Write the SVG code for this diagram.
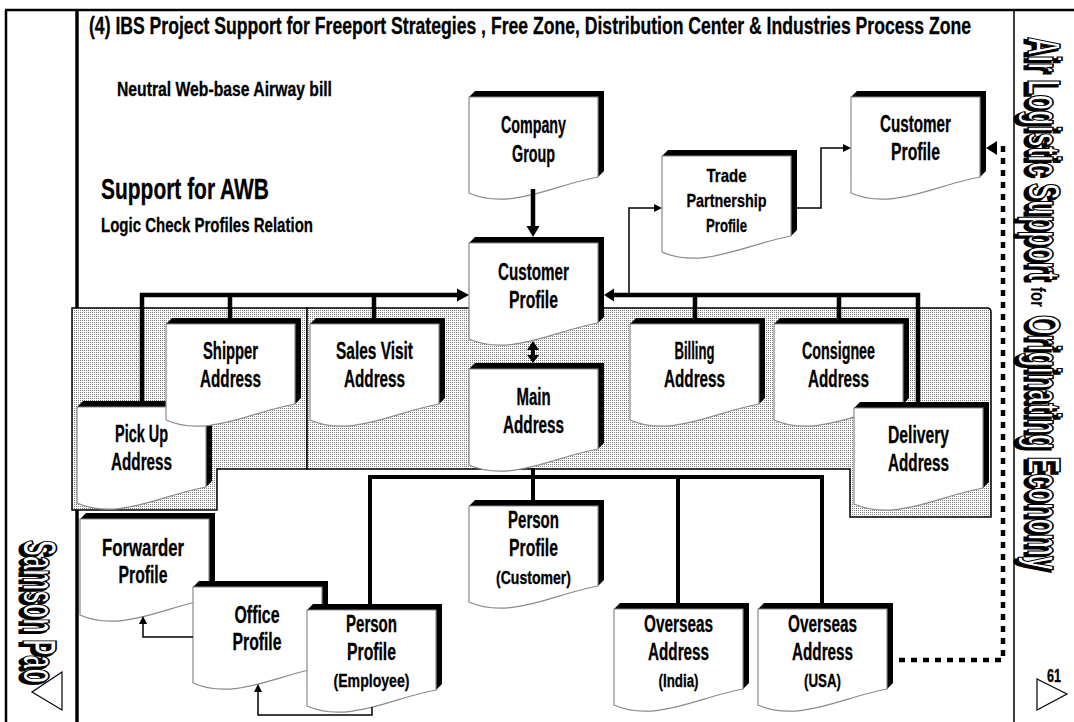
<svg xmlns="http://www.w3.org/2000/svg" width="1074" height="722" viewBox="0 0 1074 722">
  <defs>
    <style>
      .t{font-family:"Liberation Sans Narrow","Liberation Sans",Arial,sans-serif;font-weight:bold;fill:#000;stroke:#000;stroke-width:0.3}
      .lbl{font-size:23px;text-anchor:middle}
      .sub{font-size:18px;text-anchor:middle}
      .sm{font-size:19px;text-anchor:middle}
      .ext{fill:#000}
      .face{fill:#fff;stroke:#8a8a8a;stroke-width:1.2}
      .frame{fill:none;stroke:#000}
      .zone{fill:url(#dots);stroke:#000;stroke-width:1.5}
      .bus{fill:none;stroke:#000;stroke-width:4.5}
      .bus2{fill:none;stroke:#000;stroke-width:4}
      .thin{fill:none;stroke:#000;stroke-width:1.5}
      .dotted{fill:none;stroke:#000;stroke-width:4.5;stroke-dasharray:6 6}
      .head{fill:#000}
      .side{font-family:"Liberation Sans Narrow","Liberation Sans",Arial,sans-serif;font-weight:bold}
      .shadow{fill:#000;stroke:#000;stroke-width:2.5}
      .outline{fill:#fff;stroke:#000;stroke-width:1.3}
      .tri{fill:#fff;stroke:#000;stroke-width:1.2}
    </style>
    <pattern id="dots" x="0" y="0" width="2" height="2" patternUnits="userSpaceOnUse">
      <rect width="2" height="2" fill="#fff"/>
      <rect width="1" height="1" fill="#7a7a7a"/>
    </pattern>
    <!-- document shape with a black top/right extrusion, 129 x 80 -->
    <g id="doc">
      <path class="ext" d="M0,0 L6,-6 H135 V74 L129,80 V0 Z"/>
      <path class="face" d="M0,0 H129 V80 C85,88 40,114 0,96 Z"/>
    </g>
  </defs>

  <rect width="1074" height="722" fill="#fff"/>

  <!-- page frame -->
  <g id="frame">
    <line class="frame" x1="5" y1="10" x2="1074" y2="10" stroke-width="2.5"/>
    <line class="frame" x1="6" y1="10" x2="6" y2="722" stroke-width="2.5"/>
    <line class="frame" x1="77" y1="10" x2="77" y2="722" stroke-width="3.5"/>
    <line class="frame" x1="1014" y1="10" x2="1014" y2="722" stroke-width="1.5"/>
  </g>

  <!-- shaded address zones -->
  <g id="zones">
    <path class="zone" d="M72,308 H307 V469 H217 V510 H72 Z"/>
    <path class="zone" d="M307,308 H987 Q991,308 991,312 V517 H850 V469 H307 Z"/>
  </g>

  <!-- headings -->
  <g id="headings">
    <text class="t" transform="translate(89,34) scale(0.72,1)" x="0" y="0" font-size="23" textLength="1225" lengthAdjust="spacingAndGlyphs">(4) IBS Project  Support for Freeport Strategies , Free Zone, Distribution Center &amp; Industries Process Zone</text>
    <text class="t" x="117" y="96" font-size="20" textLength="215" lengthAdjust="spacingAndGlyphs">Neutral Web-base Airway bill</text>
    <text class="t" x="101" y="199" font-size="30" textLength="168" lengthAdjust="spacingAndGlyphs">Support for AWB</text>
    <text class="t" x="101" y="232" font-size="20" textLength="212" lengthAdjust="spacingAndGlyphs">Logic Check Profiles Relation</text>
  </g>

  <!-- nodes -->
  <g id="node-company-group" transform="translate(469,97)">
    <use href="#doc"/>
    <text class="t lbl" x="64.5" y="36" textLength="65" lengthAdjust="spacingAndGlyphs">Company</text>
    <text class="t lbl" x="64.5" y="65" textLength="43" lengthAdjust="spacingAndGlyphs">Group</text>
  </g>

  <g id="node-customer-profile-top" transform="translate(851,97)">
    <use href="#doc"/>
    <text class="t lbl" x="64.5" y="35" textLength="71" lengthAdjust="spacingAndGlyphs">Customer</text>
    <text class="t lbl" x="64.5" y="63" textLength="49" lengthAdjust="spacingAndGlyphs">Profile</text>
  </g>

  <g id="node-trade-partnership" transform="translate(662,156)">
    <use href="#doc"/>
    <text class="t sm" x="64.5" y="26" textLength="40" lengthAdjust="spacingAndGlyphs">Trade</text>
    <text class="t sm" x="64.5" y="51" textLength="80" lengthAdjust="spacingAndGlyphs">Partnership</text>
    <text class="t sm" x="64.5" y="76" textLength="41" lengthAdjust="spacingAndGlyphs">Profile</text>
  </g>

  <g id="node-pick-up" transform="translate(77,407)">
    <use href="#doc"/>
    <text class="t lbl" x="64.5" y="35" textLength="53" lengthAdjust="spacingAndGlyphs">Pick Up</text>
    <text class="t lbl" x="64.5" y="63" textLength="61" lengthAdjust="spacingAndGlyphs">Address</text>
  </g>

  <g id="node-shipper" transform="translate(166,324)">
    <use href="#doc"/>
    <text class="t lbl" x="64.5" y="35" textLength="55" lengthAdjust="spacingAndGlyphs">Shipper</text>
    <text class="t lbl" x="64.5" y="63" textLength="61" lengthAdjust="spacingAndGlyphs">Address</text>
  </g>

  <g id="node-sales-visit" transform="translate(310,324)">
    <use href="#doc"/>
    <text class="t lbl" x="64.5" y="35" textLength="77" lengthAdjust="spacingAndGlyphs">Sales Visit</text>
    <text class="t lbl" x="64.5" y="63" textLength="61" lengthAdjust="spacingAndGlyphs">Address</text>
  </g>

  <g id="node-customer-profile" transform="translate(469,243)">
    <use href="#doc"/>
    <text class="t lbl" x="64.5" y="37" textLength="71" lengthAdjust="spacingAndGlyphs">Customer</text>
    <text class="t lbl" x="64.5" y="65" textLength="49" lengthAdjust="spacingAndGlyphs">Profile</text>
  </g>

  <g id="node-main-address" transform="translate(469,369)">
    <use href="#doc"/>
    <text class="t lbl" x="64.5" y="36" textLength="34" lengthAdjust="spacingAndGlyphs">Main</text>
    <text class="t lbl" x="64.5" y="64" textLength="61" lengthAdjust="spacingAndGlyphs">Address</text>
  </g>

  <g id="node-billing" transform="translate(630,324)">
    <use href="#doc"/>
    <text class="t lbl" x="64.5" y="35" textLength="40" lengthAdjust="spacingAndGlyphs">Billing</text>
    <text class="t lbl" x="64.5" y="63" textLength="61" lengthAdjust="spacingAndGlyphs">Address</text>
  </g>

  <g id="node-consignee" transform="translate(774,324)">
    <use href="#doc"/>
    <text class="t lbl" x="64.5" y="35" textLength="73" lengthAdjust="spacingAndGlyphs">Consignee</text>
    <text class="t lbl" x="64.5" y="63" textLength="61" lengthAdjust="spacingAndGlyphs">Address</text>
  </g>

  <g id="node-delivery" transform="translate(854,408)">
    <use href="#doc"/>
    <text class="t lbl" x="64.5" y="35" textLength="61" lengthAdjust="spacingAndGlyphs">Delivery</text>
    <text class="t lbl" x="64.5" y="63" textLength="61" lengthAdjust="spacingAndGlyphs">Address</text>
  </g>

  <g id="node-person-customer" transform="translate(469,506)">
    <use href="#doc"/>
    <text class="t lbl" x="64.5" y="22" textLength="51" lengthAdjust="spacingAndGlyphs">Person</text>
    <text class="t lbl" x="64.5" y="50" textLength="49" lengthAdjust="spacingAndGlyphs">Profile</text>
    <text class="t sub" x="64.5" y="78" textLength="75" lengthAdjust="spacingAndGlyphs">(Customer)</text>
  </g>

  <g id="node-forwarder" transform="translate(80,519)">
    <use href="#doc"/>
    <text class="t lbl" x="63" y="37" textLength="82" lengthAdjust="spacingAndGlyphs">Forwarder</text>
    <text class="t lbl" x="63" y="64" textLength="49" lengthAdjust="spacingAndGlyphs">Profile</text>
  </g>

  <g id="node-office" transform="translate(193,587)">
    <use href="#doc"/>
    <text class="t lbl" x="64" y="36" textLength="45" lengthAdjust="spacingAndGlyphs">Office</text>
    <text class="t lbl" x="64" y="63" textLength="49" lengthAdjust="spacingAndGlyphs">Profile</text>
  </g>

  <g id="node-person-employee" transform="translate(307,610)">
    <use href="#doc"/>
    <text class="t lbl" x="64.5" y="22" textLength="51" lengthAdjust="spacingAndGlyphs">Person</text>
    <text class="t lbl" x="64.5" y="50" textLength="49" lengthAdjust="spacingAndGlyphs">Profile</text>
    <text class="t sub" x="64.5" y="77" textLength="76" lengthAdjust="spacingAndGlyphs">(Employee)</text>
  </g>

  <g id="node-overseas-india" transform="translate(614,609)">
    <use href="#doc"/>
    <text class="t lbl" x="64.5" y="23" textLength="69" lengthAdjust="spacingAndGlyphs">Overseas</text>
    <text class="t lbl" x="64.5" y="51" textLength="61" lengthAdjust="spacingAndGlyphs">Address</text>
    <text class="t sub" x="64.5" y="78" textLength="40" lengthAdjust="spacingAndGlyphs">(India)</text>
  </g>

  <g id="node-overseas-usa" transform="translate(758,609)">
    <use href="#doc"/>
    <text class="t lbl" x="64.5" y="23" textLength="69" lengthAdjust="spacingAndGlyphs">Overseas</text>
    <text class="t lbl" x="64.5" y="51" textLength="61" lengthAdjust="spacingAndGlyphs">Address</text>
    <text class="t sub" x="64.5" y="78" textLength="37" lengthAdjust="spacingAndGlyphs">(USA)</text>
  </g>

  <!-- connectors -->
  <g id="connectors">
    <!-- Company Group to Customer Profile -->
    <line class="bus" x1="533" y1="189" x2="533" y2="228"/>
    <polygon class="head" points="526.5,226 539.5,226 533,237"/>

    <!-- Customer Profile <-> Main Address -->
    <line class="bus2" x1="533" y1="348" x2="533" y2="356"/>
    <polygon class="head" points="527,350 539,350 533,341"/>
    <polygon class="head" points="527,355 539,355 533,363"/>

    <!-- left address bus -->
    <polyline class="bus" points="142,401 142,295 458,295"/>
    <line class="bus" x1="230" y1="295" x2="230" y2="318"/>
    <line class="bus" x1="374" y1="295" x2="374" y2="318"/>
    <polygon class="head" points="457,288.5 457,301.5 469,295"/>

    <!-- right address bus -->
    <polyline class="bus" points="918,402 918,295 613,295"/>
    <line class="bus" x1="695" y1="295" x2="695" y2="318"/>
    <line class="bus" x1="839" y1="295" x2="839" y2="318"/>
    <polygon class="head" points="614,288.5 614,301.5 604,295"/>

    <!-- Customer Profile to Trade Partnership Profile -->
    <polyline class="thin" points="629,295 629,208 655,208"/>
    <polygon class="head" points="654,204 654,212 662,208"/>

    <!-- Trade Partnership Profile to Customer Profile -->
    <polyline class="thin" points="797,208 821,208 821,148 844,148"/>
    <polygon class="head" points="843,144 843,152 851,148"/>

    <!-- Overseas Address (USA) to Customer Profile -->
    <polyline class="dotted" points="899,660 1003,660 1003,146"/>
    <polygon class="head" points="997,141 997,155 986,148"/>

    <!-- Main Address bus -->
    <line class="bus2" x1="533" y1="468" x2="533" y2="500"/>
    <polyline class="bus2" points="370,604 370,477 822,477 822,603"/>
    <line class="bus2" x1="678" y1="477" x2="678" y2="603"/>

    <!-- Office Profile to Forwarder Profile -->
    <polyline class="thin" points="193,637 143,637 143,623"/>
    <polygon class="head" points="139,624 147,624 143,616"/>

    <!-- Person Profile (Employee) to Office Profile -->
    <polyline class="thin" points="372,707 372,715 258,715 258,691"/>
    <polygon class="head" points="254,692 262,692 258,684"/>
  </g>

  <!-- side captions (condensed by a vertical stretch of the glyph height) -->
  <g id="side-right">
    <g transform="translate(1028,37) rotate(90) scale(1,1.9)">
      <text class="side shadow" x="2" y="1.4" font-size="24" textLength="243" lengthAdjust="spacingAndGlyphs" vector-effect="non-scaling-stroke">Air Logistic Support</text>
      <text class="side outline" x="0" y="0" font-size="24" textLength="243" lengthAdjust="spacingAndGlyphs" vector-effect="non-scaling-stroke">Air Logistic Support</text>
    </g>
    <g transform="translate(1031,287) rotate(90)">
      <text class="side" x="0" y="0" font-size="20" textLength="20" lengthAdjust="spacingAndGlyphs" fill="#000">for</text>
    </g>
    <g transform="translate(1028,315) rotate(90) scale(1,1.9)">
      <text class="side shadow" x="2" y="1.4" font-size="24" textLength="255" lengthAdjust="spacingAndGlyphs" vector-effect="non-scaling-stroke">Originating Economy</text>
      <text class="side outline" x="0" y="0" font-size="24" textLength="255" lengthAdjust="spacingAndGlyphs" vector-effect="non-scaling-stroke">Originating Economy</text>
    </g>
    <text class="t" x="1047" y="682" font-size="18" textLength="14" lengthAdjust="spacingAndGlyphs">61</text>
    <polygon class="tri" points="1037,679 1067,694 1037,710"/>
  </g>

  <g id="side-left">
    <g transform="translate(23,540) rotate(90) scale(1,1.9)">
      <text class="side shadow" x="2" y="1.4" font-size="25" textLength="143" lengthAdjust="spacingAndGlyphs" vector-effect="non-scaling-stroke">Samson Pao</text>
      <text class="side outline" x="0" y="0" font-size="25" textLength="143" lengthAdjust="spacingAndGlyphs" vector-effect="non-scaling-stroke">Samson Pao</text>
    </g>
    <polygon class="tri" points="62,672 32,692 62,710"/>
  </g>
</svg>
